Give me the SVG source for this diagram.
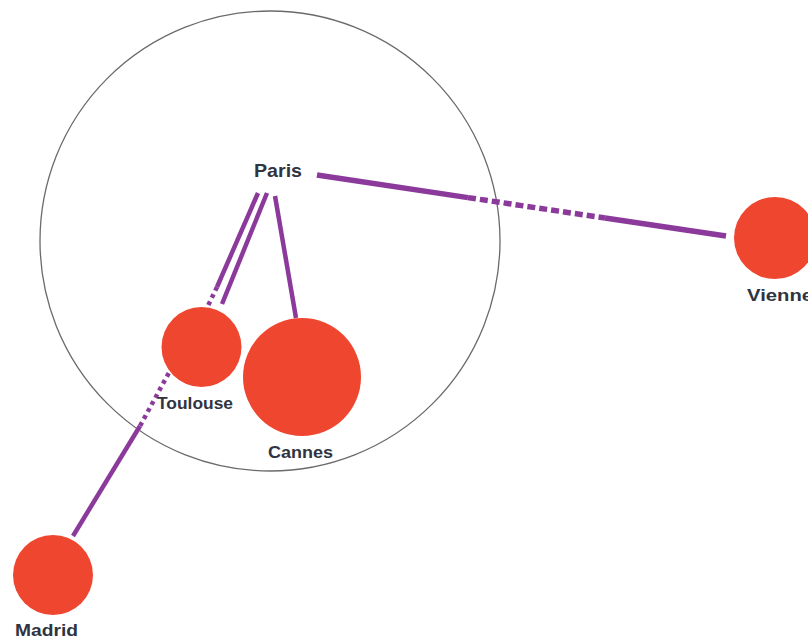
<svg xmlns="http://www.w3.org/2000/svg" width="808" height="640" viewBox="0 0 808 640">
  <style>
    .city { fill: #ef4630; }
    .link { fill: none; stroke: #8b3a9b; stroke-width: 4.5; stroke-linecap: butt; }
    .wide { stroke-width: 5.5; }
    .dash { stroke-dasharray: 8 4; }
    .dots { stroke-dasharray: 4 4; }
    .label { font-family: "Liberation Sans", Arial, sans-serif; font-weight: bold; fill: #2f3440; }
  </style>
  <rect width="808" height="640" fill="#ffffff"/>

  <!-- range ring around Paris -->
  <g id="range">
    <circle cx="270" cy="241" r="230" fill="none" stroke="#6a6a6a" stroke-width="1.3"/>
  </g>

  <!-- connectors -->
  <g id="connectors">
    <!-- Paris - Vienne -->
    <path class="link wide" d="M317,175 L468,197.6"/>
    <path class="link wide dash" d="M468,197.6 L605,218"/>
    <path class="link wide" d="M605,218 L726,236"/>
    <!-- Paris - Toulouse -->
    <path class="link" d="M258,193 L217,287"/>
    <path class="link dots" d="M217,287 L204,314"/>
    <!-- Paris - Madrid -->
    <path class="link" d="M267,193 L222,304"/>
    <path class="link dots" d="M184,345 L140,426"/>
    <path class="link" d="M140,426 L73,536"/>
    <!-- Paris - Cannes -->
    <path class="link" d="M275,196 L296,318"/>
  </g>

  <g id="paris">
    <text class="label" x="254" y="177" font-size="19" textLength="48" lengthAdjust="spacingAndGlyphs">Paris</text>
  </g>
  <g id="vienne">
    <circle class="city" cx="775" cy="238" r="41"/>
    <text class="label" x="747" y="301" font-size="17" textLength="66" lengthAdjust="spacingAndGlyphs">Vienne</text>
  </g>
  <g id="toulouse">
    <circle class="city" cx="201.5" cy="347" r="40"/>
    <text class="label" x="157" y="409" font-size="17" textLength="76" lengthAdjust="spacingAndGlyphs">Toulouse</text>
  </g>
  <g id="cannes">
    <circle class="city" cx="302" cy="377" r="59"/>
    <text class="label" x="268" y="458" font-size="17" textLength="65" lengthAdjust="spacingAndGlyphs">Cannes</text>
  </g>
  <g id="madrid">
    <circle class="city" cx="53" cy="575" r="40"/>
    <text class="label" x="15" y="636" font-size="17" textLength="63" lengthAdjust="spacingAndGlyphs">Madrid</text>
  </g>
</svg>
